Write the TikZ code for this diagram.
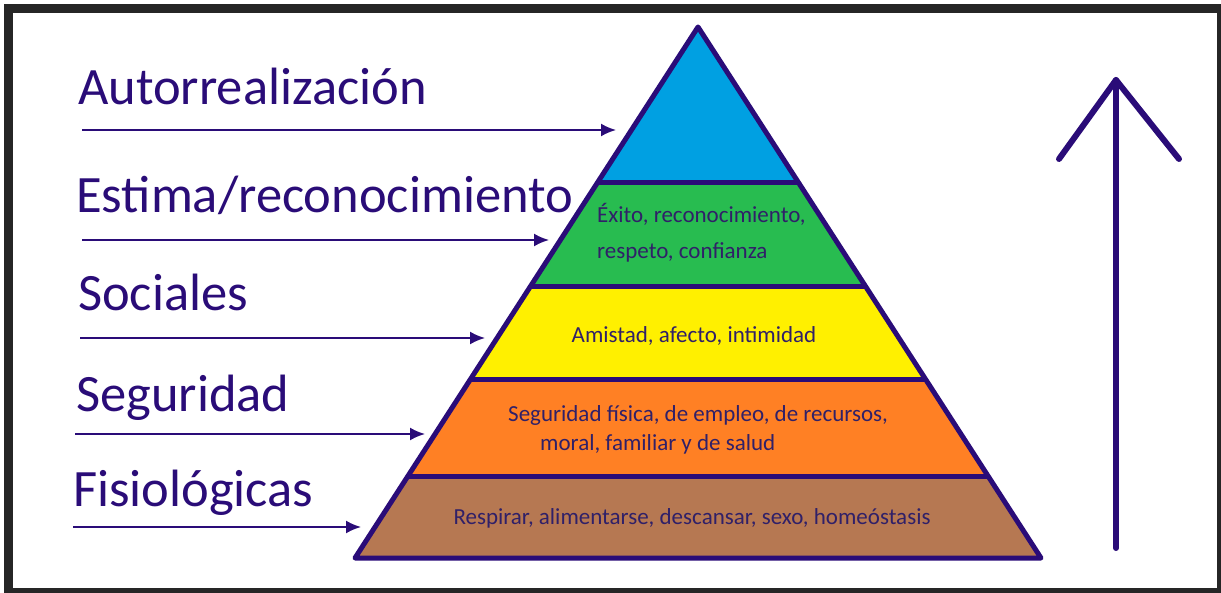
\documentclass[tikz,border=0pt]{standalone}
\usepackage{fontspec}
\setmainfont{Carlito}
\usetikzlibrary{arrows.meta,calc}

\definecolor{tinta}{RGB}{42,12,120}
\definecolor{letra}{RGB}{48,32,104}
\definecolor{capaA}{RGB}{0,160,226}
\definecolor{capaB}{RGB}{40,188,80}
\definecolor{capaC}{RGB}{255,240,0}
\definecolor{capaD}{RGB}{255,128,36}
\definecolor{capaE}{RGB}{182,120,82}

\tikzset{
  nivel/.style={anchor=base west, text=tinta, inner sep=0pt, font=\fontsize{52.5}{60}\selectfont},
  capa/.style={text=letra, inner sep=0pt, font=\fontsize{23}{36}\selectfont},
  flecha/.style={draw=tinta, line width=2pt, -{Latex[length=15pt,width=13pt]}}
}

\begin{document}
\begin{tikzpicture}[x=1pt, y=-1pt]
        \useasboundingbox (0,0) rectangle (1221,593);
        % marco
        \fill[black!85] (4,4) rectangle (1221,593);
        \fill[white] (13,13) rectangle (1217,588);

        % piramide
        \coordinate (cima) at (698,27);
        \coordinate (bi) at (355,558);
        \coordinate (bd) at (1041,558);
        \fill[capaA] (cima) -- (597.2,183) -- (798.8,183) -- cycle;
        \fill[capaB] (597.2,183) -- (798.8,183) -- (865.9,287) -- (530.1,287) -- cycle;
        \fill[capaC] (530.1,287) -- (865.9,287) -- (926,380) -- (470,380) -- cycle;
        \fill[capaD] (470,380) -- (926,380) -- (988,476) -- (408,476) -- cycle;
        \fill[capaE] (408,476) -- (988,476) -- (bd) -- (bi) -- cycle;
        \draw[tinta, line width=5pt] (597.2,183) -- (798.8,183)
            (530.1,287) -- (865.9,287) (470,380) -- (926,380) (408,476) -- (988,476);
        \draw[tinta, line width=5pt, line join=round] (cima) -- (bd) -- (bi) -- cycle;

        % textos de las capas
        \node[capa, anchor=base west, align=left] (tB) at (597,259) {Éxito, reconocimiento,\\respeto, confianza};
        \node[capa, anchor=base] (tC) at (694,343) {Amistad, afecto, intimidad};
        \node[capa, anchor=base west, align=left, font=\fontsize{23}{29}\selectfont] (tD) at (508,450)
            {Seguridad física, de empleo, de recursos,\\\hspace*{32pt}moral, familiar y de salud};
        \node[capa, anchor=base] (tE) at (692,524) {Respirar, alimentarse, descansar, sexo, homeóstasis};

        % niveles
        \node[nivel] (n1) at (78,105) {Autorrealización};
        \node[nivel] (n2) at (76,213) {Estima/reconocimiento};
        \node[nivel] (n3) at (78,311) {Sociales};
        \node[nivel] (n4) at (76,412) {Seguridad};
        \node[nivel] (n5) at (73,506) {Fisiológicas};

        \coordinate (a1) at (82,130);  \coordinate (b1) at (616,130);
        \coordinate (a2) at (82,240);  \coordinate (b2) at (549,240);
        \coordinate (a3) at (80,338);  \coordinate (b3) at (485,338);
        \coordinate (a4) at (75,434);  \coordinate (b4) at (425,434);
        \coordinate (a5) at (73,527);  \coordinate (b5) at (361,527);
        \foreach \i in {1,...,5}
            \draw[flecha] (a\i) -- (b\i);

        % flecha grande
        \coordinate (pie) at (1116,548);
        \coordinate (punta) at (1116,80);
        \draw[tinta, line width=6pt, line cap=round] (pie) -- (punta);
        \draw[tinta, line width=6pt, line cap=round, line join=round] (1059,159) -- (punta) -- (1179,159);
    \end{tikzpicture}
\end{document}
